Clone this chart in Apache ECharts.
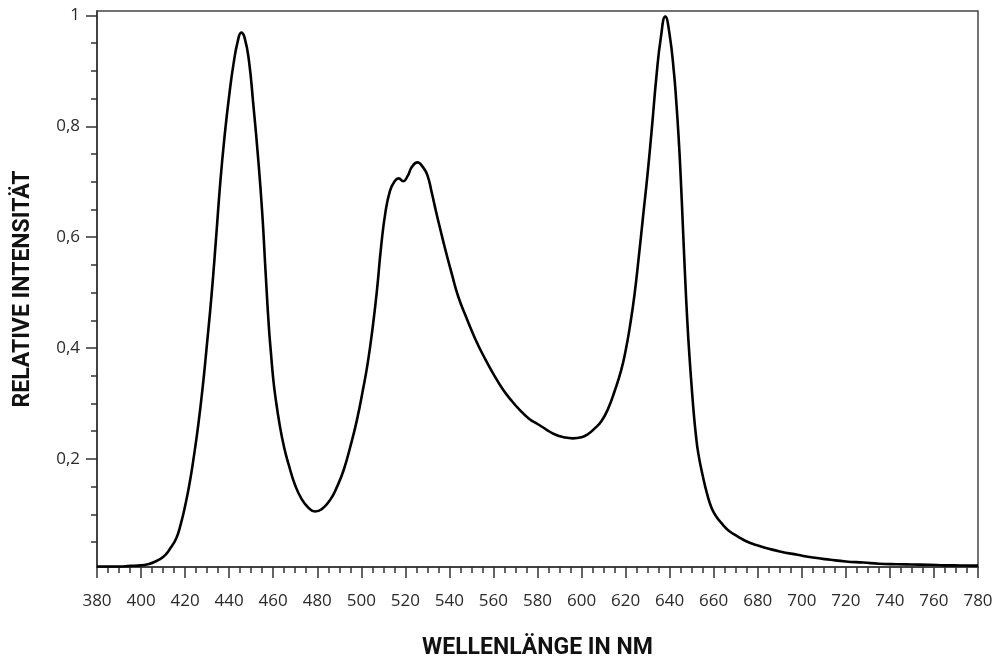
<!DOCTYPE html>
<html>
<head>
<meta charset="utf-8">
<script src="https://cdn.jsdelivr.net/npm/echarts@6/dist/echarts.min.js"></script>
<style>
html,body{margin:0;padding:0;background:#fff;}
#c{width:998px;height:661px;}
</style>
</head>
<body>
<div id="c"></div>
<script>
var wavelengths = [380,390,395,400,403,406,410,413,416,418,420,422,424,426,428,430,432,434,436,438,440,442,444,445.5,447,449,451,453,455,456.5,458,459,460,461,463,465,467,470,473,476,479,482,486,489,492,495,498,501,503,505,507,509,511,513,515,517,519,521,523,525.5,528,530,532,534,536,538,541,544,548,552,556,560,564,568,572,576,580,584,588,592,596,600,603,606,609,612,615,618,620,622,624,626,628,630,632,634,636,638,640,642,643,644,645,646,647,648,649,650,651,652,653,655,657,659,661,664,667,671,675,680,685,690,698,705,713,720,728,735,743,750,758,765,772,780];
var intensity = [0.006,0.006,0.007,0.008,0.010,0.014,0.023,0.037,0.057,0.082,0.115,0.155,0.205,0.262,0.330,0.410,0.495,0.595,0.700,0.785,0.855,0.913,0.955,0.969,0.960,0.918,0.838,0.750,0.645,0.540,0.440,0.390,0.345,0.312,0.260,0.220,0.190,0.152,0.127,0.112,0.105,0.109,0.127,0.150,0.180,0.222,0.270,0.330,0.375,0.432,0.500,0.583,0.646,0.683,0.700,0.706,0.701,0.710,0.727,0.735,0.726,0.712,0.680,0.645,0.612,0.580,0.535,0.493,0.452,0.414,0.382,0.353,0.327,0.306,0.288,0.273,0.263,0.253,0.244,0.239,0.237,0.239,0.245,0.255,0.268,0.290,0.322,0.360,0.395,0.440,0.495,0.565,0.640,0.715,0.800,0.890,0.960,0.998,0.965,0.895,0.845,0.785,0.710,0.620,0.530,0.450,0.385,0.330,0.280,0.240,0.210,0.170,0.137,0.112,0.097,0.082,0.070,0.060,0.051,0.044,0.038,0.033,0.027,0.022,0.018,0.015,0.013,0.011,0.010,0.0095,0.009,0.008,0.0078,0.0075];
var yLabelValues = [0.2,0.4,0.6,0.8,1];
var yMinorTickValues = [0.05,0.1,0.15,0.2,0.25,0.3,0.35,0.4,0.45,0.5,0.55,0.6,0.65,0.7,0.75,0.8,0.85,0.9,0.95,1];
var xTitle = 'WELLENLÄNGE IN NM';
var yTitle = 'RELATIVE INTENSITÄT';

var points = wavelengths.map(function(w,i){return [w,intensity[i]];});
var chart = echarts.init(document.getElementById('c'));
var labelStyle = {fontFamily:'Open Sans', fontSize:17, color:'#2a2a2a'};
var titleStyle = {fontFamily:'Roboto', fontWeight:'bold', fontSize:23, color:'#111'};
chart.setOption({
  animation:false,
  backgroundColor:'#fff',
  grid:{left:97, top:11, right:20, bottom:94, outerBoundsMode:'none', containLabel:false, show:true, borderColor:'#444', borderWidth:1.5, backgroundColor:'transparent'},
  xAxis:{
    type:'value', min:380, max:780, interval:20,
    name:xTitle, nameLocation:'middle', nameGap:70, nameTextStyle:titleStyle,
    axisLine:{show:true, lineStyle:{color:'#333', width:1.5}},
    axisTick:{show:true, inside:false, length:11, lineStyle:{color:'#333', width:1.5}},
    minorTick:{show:true, splitNumber:4, length:6, lineStyle:{color:'#333', width:1.5}},
    splitLine:{show:false}, minorSplitLine:{show:false},
    axisLabel:Object.assign({margin:26}, labelStyle)
  },
  yAxis:[{
    type:'value', min:0.005, max:1.008,
    name:yTitle, nameLocation:'middle', nameGap:62, nameRotate:90, nameTextStyle:titleStyle,
    axisLine:{show:true, lineStyle:{color:'#333', width:1.5}},
    axisTick:{show:true, inside:false, length:11, customValues:yLabelValues, lineStyle:{color:'#333', width:1.5}},
    splitLine:{show:false},
    axisLabel:Object.assign({margin:17, customValues:yLabelValues, formatter:function(v){return String(v).replace('.',',');}}, labelStyle)
  },{
    type:'value', min:0.005, max:1.008, position:'left',
    axisLine:{show:false},
    axisTick:{show:true, inside:false, length:6, customValues:yMinorTickValues, lineStyle:{color:'#333', width:1.5}},
    splitLine:{show:false},
    axisLabel:{show:false}
  }],
  series:[{
    type:'line', data:points, yAxisIndex:0, showSymbol:false, symbol:'none',
    smooth:0.5,
    lineStyle:{color:'#000', width:2.6}
  }]
});
</script>
</body>
</html>
